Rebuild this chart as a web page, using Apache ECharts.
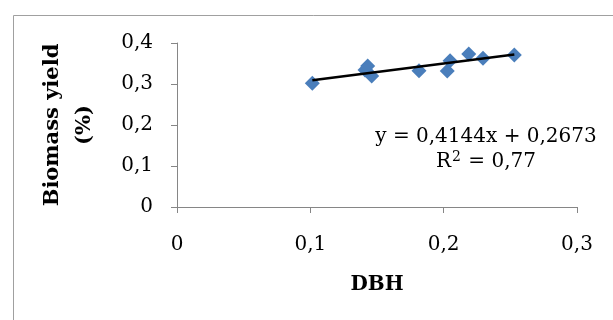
<!DOCTYPE html>
<html>
<head>
<meta charset="utf-8">
<script src="https://cdn.jsdelivr.net/npm/echarts@6/dist/echarts.min.js"></script>
<style>html,body{margin:0;padding:0;background:#fff}#c{width:613px;height:320px}</style>
</head>
<body>
<div id="c"></div>
<script>
// Data
const dbh = [0.1015, 0.143, 0.141, 0.146, 0.1815, 0.2027, 0.2048, 0.2188, 0.2295, 0.253];
const biomass = [0.3017, 0.344, 0.334, 0.3195, 0.3324, 0.3317, 0.3568, 0.373, 0.3627, 0.3707];
const trendSlope = 0.4144;
const trendIntercept = 0.2673;
const trendRange = [0.1015, 0.253];
const xTicks = [0, 0.1, 0.2, 0.3];
const yTicks = [0, 0.1, 0.2, 0.3, 0.4];
const equationText = 'y = 0,4144x + 0,2673';
const r2Text = 'R{s|2} = 0,77';

const FONT = '"DejaVu Serif", serif';
const fmt = v => String(+(+v).toFixed(2)).replace('.', ',');
const pts = dbh.map((x, i) => [x, biomass[i]]);
const trend = trendRange.map(x => [x, trendSlope * x + trendIntercept]);

const chart = echarts.init(document.getElementById('c'));
chart.setOption({
  animation: false,
  backgroundColor: '#fff',
  grid: { left: 177, right: 36, top: 43, bottom: 113 },
  xAxis: {
    type: 'value', min: xTicks[0], max: xTicks[xTicks.length - 1], interval: 0.1,
    name: 'DBH', nameLocation: 'middle', nameGap: 68,
    nameTextStyle: { fontFamily: FONT, fontWeight: 'bold', fontSize: 20, color: '#000' },
    axisLine: { show: true, lineStyle: { color: '#868686', width: 1 } },
    axisTick: { show: true, length: 6, lineStyle: { color: '#868686' } },
    axisLabel: { formatter: fmt, fontFamily: FONT, fontSize: 20, color: '#000', margin: 28 },
    splitLine: { show: false }
  },
  yAxis: {
    type: 'value', min: yTicks[0], max: yTicks[yTicks.length - 1], interval: 0.1,
    name: 'Biomass yield\n(%)', nameLocation: 'middle', nameGap: 76, nameRotate: 90,
    nameTextStyle: { fontFamily: FONT, fontWeight: 'bold', fontSize: 21, color: '#000', lineHeight: 32, align: 'center' },
    axisLine: { show: true, lineStyle: { color: '#868686', width: 1 } },
    axisTick: { show: true, length: 6, lineStyle: { color: '#868686' } },
    axisLabel: { formatter: fmt, fontFamily: FONT, fontSize: 20, color: '#000', margin: 24 },
    splitLine: { show: false }
  },
  series: [
    {
      type: 'scatter', data: pts, symbol: 'diamond', symbolSize: [15, 15],
      itemStyle: { color: '#4A7EBB', opacity: 1 }, z: 2
    },
    {
      type: 'line', data: trend, symbol: 'none', z: 3,
      lineStyle: { color: '#000', width: 2.5 }
    }
  ],
  graphic: [
    { type: 'rect', shape: { x: 13.5, y: 15.5, width: 700, height: 400 },
      style: { fill: 'none', stroke: '#a0a0a0', lineWidth: 1 }, z: 0 },
    { type: 'text', x: 486, y: 137,
      style: { text: equationText, font: '20px ' + FONT, fill: '#000', textAlign: 'center', textVerticalAlign: 'middle' } },
    { type: 'text', x: 486, y: 162,
      style: { text: r2Text, font: '20px ' + FONT, fill: '#000', textAlign: 'center', textVerticalAlign: 'middle',
        rich: { s: { fontSize: 14, fontFamily: FONT, fill: '#000', padding: [0, 1, 10, 1] } } } }
  ]
});
</script>
</body>
</html>
